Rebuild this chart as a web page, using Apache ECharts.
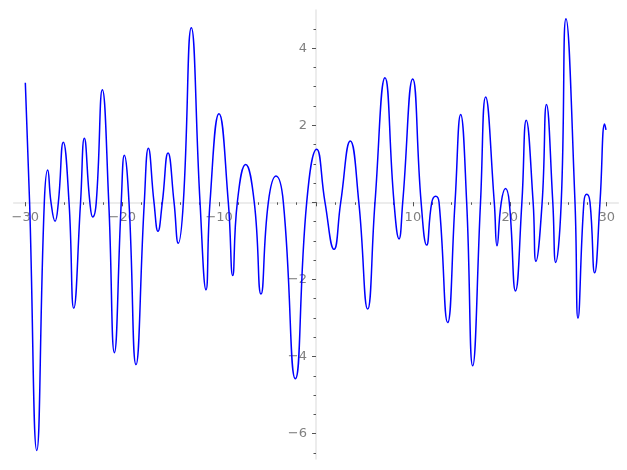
<!DOCTYPE html>
<html>
<head>
<meta charset="utf-8">
<script src="https://cdn.jsdelivr.net/npm/echarts@6/dist/echarts.min.js"></script>
<style>
html,body{margin:0;padding:0;background:#fff;}
#chart{width:627px;height:470px;}
</style>
</head>
<body>
<div id="chart"></div>
<script>
// curve samples (extrema and zero crossings)
const xs = [-30, -29.56, -28.82, -28.04, -27.69, -27.35, -26.93, -26.59, -26.08, -25.49,
  -25.00, -24.30, -23.91, -23.34, -23.05, -22.68, -22.05, -21.39, -20.81, -20.10,
  -19.78, -19.30, -18.58, -17.72, -17.30, -16.72, -16.31, -15.86, -15.27, -14.65,
  -14.21, -13.69, -12.87, -11.97, -11.35, -10.94, -10.01, -9.05, -8.60, -8.12,
  -7.26, -6.37, -5.68, -4.92, -4.13, -3.37, -2.13, -0.96, 0.07, 0.93,
  1.86, 2.55, 3.54, 4.42, 5.33, 6.09, 7.12, 8.05, 8.57, 8.95,
  9.98, 10.85, 11.42, 11.95, 12.35, 12.70, 13.59, 14.35, 14.93, 15.55,
  16.17, 16.98, 17.51, 18.40, 18.68, 19.12, 19.56, 19.95, 20.59, 21.25,
  21.70, 22.41, 22.70, 23.34, 23.79, 24.44, 24.74, 25.31, 25.80, 26.73,
  27.04, 27.65, 27.94, 28.28, 28.76, 29.31, 29.79, 29.93];
const ys = [3.10, 0, -6.44, 0, 0.84, 0, -0.49, 0, 1.56, 0,
  -2.75, 0, 1.66, 0, -0.38, 0, 2.92, 0, -3.90, 0,
  1.22, 0, -4.21, 0, 1.40, 0, -0.75, 0, 1.28, 0,
  -1.06, 0, 4.53, 0, -2.27, 0, 2.30, 0, -1.90, 0,
  0.98, 0, -2.38, 0, 0.68, 0, -4.58, 0, 1.38, 0,
  -1.22, 0, 1.59, 0, -2.77, 0, 3.23, 0, -0.95, 0,
  3.20, 0, -1.11, 0, 0.16, 0, -3.12, 0, 2.28, 0,
  -4.24, 0, 2.73, 0, -1.13, 0, 0.36, 0, -2.30, 0,
  2.13, 0, -1.53, 0, 2.54, 0, -1.56, 0, 4.76, 0,
  -3.01, 0, 0.21, 0, -1.83, 0, 2.03, 1.88];

const xMajorTicks = [-30, -20, -10, 0, 10, 20, 30];
const xLabels = [-30, -20, -10, 10, 20, 30];
const xMinorTicks = [-30,-28,-26,-24,-22,-20,-18,-16,-14,-12,-10,-8,-6,-4,-2,0,2,4,6,8,10,12,14,16,18,20,22,24,26,28,30];
const yMajorTicks = [-6, -4, -2, 0, 2, 4];
const yLabels = [-6, -4, -2, 2, 4];
const yMinorTicks = [-6.5,-6,-5.5,-5,-4.5,-4,-3.5,-3,-2.5,-2,-1.5,-1,-0.5,0,0.5,1,1.5,2,2.5,3,3.5,4,4.5];

const data = xs.map((x, i) => [x, ys[i]]);
const fmt = v => String(v).replace('-', '\u2212');

const W = 627, H = 470;
const GRID = { left: 13.7, right: 8.7, top: 10, bottom: 11 };
const X_MIN = -31.2, X_MAX = 31.2, Y_MIN = -6.66, Y_MAX = 4.99;
// place the axes through the origin (as offsets from the grid edges)
const gridW = W - GRID.left - GRID.right, gridH = H - GRID.top - GRID.bottom;
const xAxisOffset = -gridH * (0 - Y_MIN) / (Y_MAX - Y_MIN);
const yAxisOffset = -gridW * (0 - X_MIN) / (X_MAX - X_MIN);

const axisColor = '#e6e6e6', tickColor = '#555', labelColor = '#808080';
const labelFont = { fontFamily: 'DejaVu Sans', fontSize: 13, color: labelColor };

function xAxisDef(major) {
  return {
    type: 'value', min: X_MIN, max: X_MAX, position: 'bottom', offset: xAxisOffset,
    axisLine: { show: major, onZero: false, lineStyle: { color: axisColor, width: 1.5 } },
    axisTick: { show: true, customValues: major ? xMajorTicks : xMinorTicks,
      length: major ? 4 : 2.5, lineStyle: { color: tickColor, width: 1 } },
    axisLabel: { show: major, customValues: xLabels, formatter: fmt, margin: 9, ...labelFont },
    splitLine: { show: false }
  };
}
function yAxisDef(major) {
  return {
    type: 'value', min: Y_MIN, max: Y_MAX, position: 'left', offset: yAxisOffset,
    axisLine: { show: major, onZero: false, lineStyle: { color: axisColor, width: 1.5 } },
    axisTick: { show: true, customValues: major ? yMajorTicks : yMinorTicks,
      length: major ? 4 : 2.5, lineStyle: { color: tickColor, width: 1 } },
    axisLabel: { show: major, customValues: yLabels, formatter: fmt, margin: 9, ...labelFont },
    splitLine: { show: false }
  };
}

const chart = echarts.init(document.getElementById('chart'), null, { renderer: 'canvas' });
chart.setOption({
  animation: false,
  backgroundColor: '#fff',
  grid: { ...GRID, containLabel: false, outerBoundsMode: 'none' },
  xAxis: [xAxisDef(true), xAxisDef(false)],
  yAxis: [yAxisDef(true), yAxisDef(false)],
  series: [{
    type: 'line', xAxisIndex: 0, yAxisIndex: 0,
    data: data, smooth: 0.5, showSymbol: false, symbol: 'none',
    lineStyle: { color: '#0000ff', width: 1.5 }
  }]
});
</script>
</body>
</html>
